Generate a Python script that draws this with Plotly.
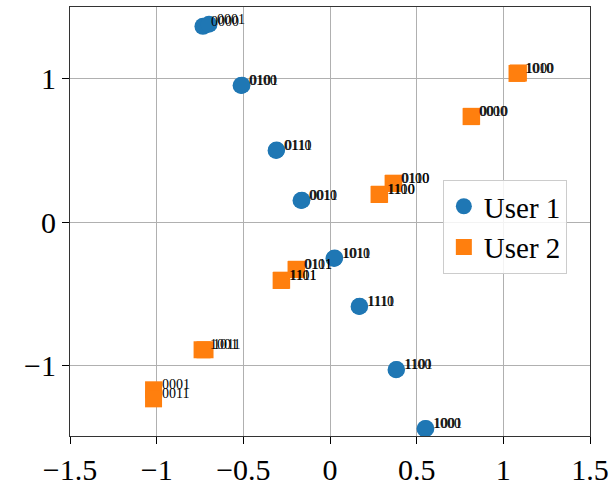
import plotly.graph_objects as go

# constellation points, user 1 (circles)
u1_x = [-0.733, -0.698, -0.513, -0.508, -0.311, -0.308, -0.167, -0.162,
        0.023, 0.027, 0.168, 0.171, 0.381, 0.384, 0.548, 0.553]
u1_y = [1.365, 1.379, 0.953, 0.955, 0.500, 0.503, 0.151, 0.153,
        -0.253, -0.250, -0.588, -0.586, -1.028, -1.026, -1.440, -1.438]
u1_lab = ["0000", "0001", "0100", "0101", "0110", "0111", "0010", "0011",
          "1010", "1011", "1110", "1111", "1100", "1101", "1000", "1001"]

# constellation points, user 2 (squares)
u2_x = [1.079, 1.087, 0.814, 0.817, 0.364, 0.367, 0.283, 0.286,
        -0.196, -0.193, -0.282, -0.279, -0.738, -0.721, -1.018, -1.018]
u2_y = [1.037, 1.040, 0.736, 0.738, 0.270, 0.272, 0.193, 0.195,
        -0.330, -0.328, -0.406, -0.404, -0.889, -0.889, -1.168, -1.231]
u2_lab = ["1010", "1000", "0000", "0010", "0100", "0110", "1100", "1110",
          "0101", "0111", "1101", "1111", "1001", "1011", "0001", "0011"]

tick_vals_x = [-1.5, -1, -0.5, 0, 0.5, 1, 1.5]
tick_text_x = ["\u22121.5", "\u22121", "\u22120.5", "0", "0.5", "1", "1.5"]
tick_vals_y = [-1, 0, 1]
tick_text_y = ["\u22121", "0", "1"]

SERIF = "Liberation Serif"

fig = go.Figure()
fig.add_trace(go.Scatter(
    x=u1_x, y=u1_y, mode="markers", name="User 1",
    marker=dict(symbol="circle", size=17, color="#1f77b4"),
))
fig.add_trace(go.Scatter(
    x=u2_x, y=u2_y, mode="markers", name="User 2",
    marker=dict(symbol="square", size=17, color="#ff7f0e"),
))

# bit labels next to each point
annotations = []
for xs, ys, labs in [(u1_x, u1_y, u1_lab), (u2_x, u2_y, u2_lab)]:
    for x, y, t in zip(xs, ys, labs):
        annotations.append(dict(
            x=x, y=y, text=t, showarrow=False,
            xanchor="left", yanchor="middle",
            xshift=6, yshift=5,
            font=dict(family=SERIF, size=14, color="black"),
        ))

fig.update_layout(
    width=609, height=485,
    margin=dict(l=70, r=19, t=7, b=49),
    plot_bgcolor="white", paper_bgcolor="white",
    font=dict(family=SERIF, size=30, color="black"),
    annotations=annotations,
    legend=dict(
        x=0.717, y=0.597, xanchor="left", yanchor="top",
        bgcolor="rgba(255,255,255,0.85)",
        bordercolor="#cccccc", borderwidth=1,
        font=dict(family=SERIF, size=29),
        itemwidth=30, tracegroupgap=0,
    ),
)
fig.update_xaxes(
    range=[-1.5, 1.5], tickvals=tick_vals_x, ticktext=tick_text_x,
    showgrid=True, gridcolor="#b0b0b0", gridwidth=1,
    zeroline=False, showline=True, linecolor="#333333", linewidth=1.2,
    mirror=True, ticks="outside", ticklen=7, tickcolor="black",
    automargin=False,
)
fig.update_yaxes(
    range=[-1.49, 1.5], tickvals=tick_vals_y, ticktext=tick_text_y,
    showgrid=True, gridcolor="#b0b0b0", gridwidth=1,
    zeroline=False, showline=True, linecolor="#333333", linewidth=1.2,
    mirror=True, ticks="outside", ticklen=7, tickcolor="black",
    automargin=False,
)

# the page's default body margin would shift the figure by 8px
fig.write_html("out.html", config={"displayModeBar": False},
               post_script="document.body.style.margin='0';")
